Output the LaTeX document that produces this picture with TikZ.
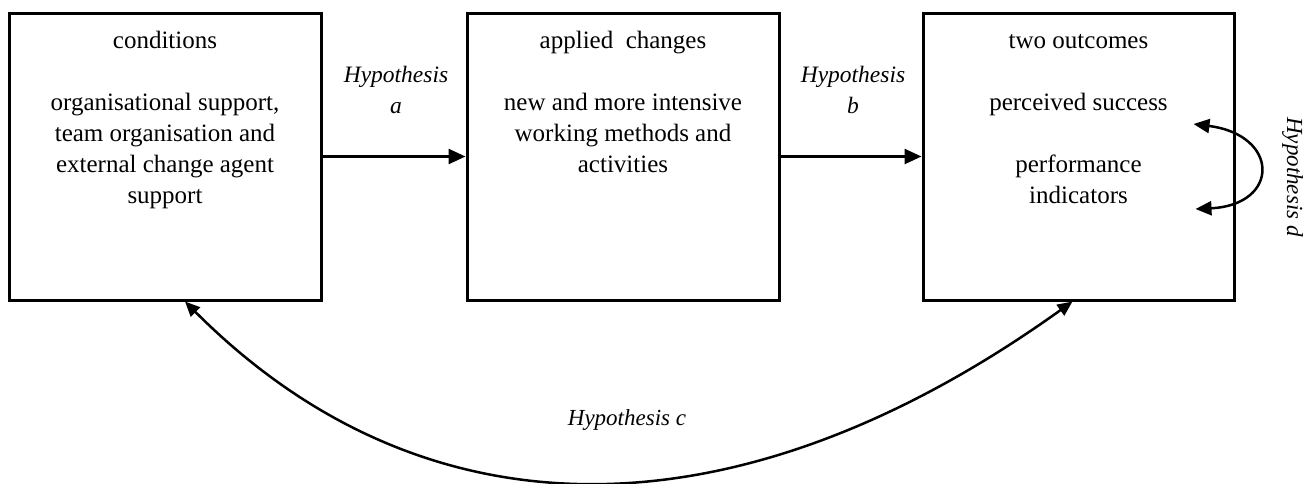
\documentclass[tikz,border=0pt]{standalone}
\usepackage{fontspec}
\setmainfont{Liberation Serif}
\usetikzlibrary{arrows.meta}
\begin{document}
\begin{tikzpicture}[x=1pt,y=-1pt,
  box/.style={draw=black,line width=3pt,minimum height=287pt,inner sep=0pt},
  boxtext/.style={anchor=north,inner sep=0pt,align=center,font=\fontsize{25}{31}\selectfont},
  hyptext/.style={anchor=north,inner sep=0pt,align=center,font=\fontsize{23.5}{31}\selectfont\itshape},
  arr/.style={line width=2.5pt,-{Triangle[length=17pt,width=15pt]}},
  darr/.style={line width=2.5pt,{Triangle[length=15pt,width=13pt]}-{Triangle[length=15pt,width=13pt]}},
  sarr/.style={line width=2.5pt,{Triangle[length=16pt,width=14pt]}-{Triangle[length=16pt,width=14pt]}}]
\useasboundingbox[fill=white] (0,0) rectangle (1307,483);
% boxes
\node[box,minimum width=312pt] (c1) at (165,156.5) {};
\node[box,minimum width=312pt] (c2) at (623,156.5) {};
\node[box,minimum width=311pt] (c3) at (1078.5,156.5) {};
% box texts
\node[boxtext] (t1) at (165,26.3) {\strut conditions\\[31pt]organisational support,\\team organisation and\\external change agent\\support};
\node[boxtext] (t2) at (623,26.3) {\strut applied\ \ changes\\[31pt]new and more intensive\\working methods and\\activities};
\node[boxtext] (t3) at (1078.5,26.3) {\strut two outcomes\\[31pt]perceived success\\[31pt]performance\\indicators};
% hypothesis labels
\node[hyptext] (ha) at (396,60.3) {\strut Hypothesis\\a};
\node[hyptext] (hb) at (853,60.3) {\strut Hypothesis\\b};
\node[anchor=base,inner sep=0pt,font=\fontsize{23}{28}\selectfont\itshape] (hc) at (627,425) {Hypothesis c};
\node[anchor=base,inner sep=0pt,rotate=-90,font=\fontsize{23}{28}\selectfont\itshape] (hd) at (1287,177) {Hypothesis d};
% connectors
\draw[arr] (c1.east) -- (c2.west);
\draw[arr] (c2.east) -- (c3.west);
\draw[darr] ([xshift=20pt]c1.south) .. controls (425,542) and (737,542) .. ([xshift=-6pt]c3.south);
\draw[sarr] ([xshift=-42pt,yshift=32.5pt]c3.east) .. controls (1280,135) and (1280,205) .. ([xshift=-40pt,yshift=-52.5pt]c3.east);
\end{tikzpicture}
\end{document}
